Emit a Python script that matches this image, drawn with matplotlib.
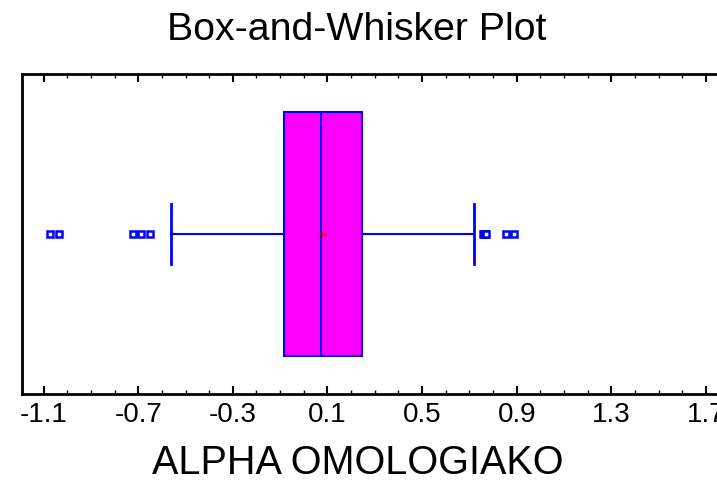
import matplotlib

matplotlib.use("Agg")
import matplotlib.pyplot as plt
from matplotlib.ticker import MultipleLocator

plt.rcParams["font.family"] = ["Liberation Sans", "DejaVu Sans"]

# 箱线图统计量
box_q1 = -0.085
box_med = 0.072
box_q3 = 0.245
box_mean = 0.075
whisker_lo = -0.56
whisker_hi = 0.72
outliers = [-1.072, -1.034, -0.72, -0.687, -0.649,
            0.757, 0.761, 0.765, 0.769, 0.855, 0.89]

tick_values = [-1.1, -0.7, -0.3, 0.1, 0.5, 0.9, 1.3, 1.7]

fig = plt.figure(figsize=(7.17, 4.83), dpi=100)
ax = fig.add_axes([0.0307, 0.1843, 1.02, 0.6625])

stats = [{
    "med": box_med, "q1": box_q1, "q3": box_q3, "mean": box_mean,
    "whislo": whisker_lo, "whishi": whisker_hi, "fliers": outliers,
}]
ax.bxp(stats, positions=[0.5], widths=0.7625, capwidths=0.19, vert=False,
       patch_artist=True, showmeans=True, showcaps=True,
       boxprops=dict(facecolor="#ff00ff", edgecolor="#0000ff", linewidth=1.5),
       medianprops=dict(color="#0000ff", linewidth=1.5),
       whiskerprops=dict(color="#0000ff", linewidth=1.5),
       capprops=dict(color="#0000ff", linewidth=2),
       meanprops=dict(marker="+", markeredgecolor="red", markersize=5,
                      markeredgewidth=0.8),
       flierprops=dict(marker="s", markerfacecolor="white",
                       markeredgecolor="#0000ff", markersize=5,
                       markeredgewidth=1.8, linestyle="none"))

ax.set_xlim(-1.191, 1.9)
ax.set_ylim(0, 1)
ax.set_yticks([])
ax.set_xticks(tick_values)
ax.set_xticklabels([f"{v:.1f}" for v in tick_values], fontsize=20)
ax.xaxis.set_minor_locator(MultipleLocator(0.1))
ax.tick_params(axis="x", which="major", direction="in", top=True,
               length=6, width=1.5, pad=6)
ax.tick_params(axis="x", which="minor", direction="in", top=True,
               length=3, width=1)
for s in ax.spines.values():
    s.set_linewidth(2)

# 轴标题：居中于可见区域，而非整个坐标轴
fig.text(358 / 717, 1 - 474 / 483, "ALPHA OMOLOGIAKO", ha="center",
         va="baseline", fontsize=28.5)
fig.text(357 / 717, 0.937, "Box-and-Whisker Plot", ha="center", va="center",
         fontsize=28.3)

fig.savefig("out.png", dpi=100)
plt.close(fig)
